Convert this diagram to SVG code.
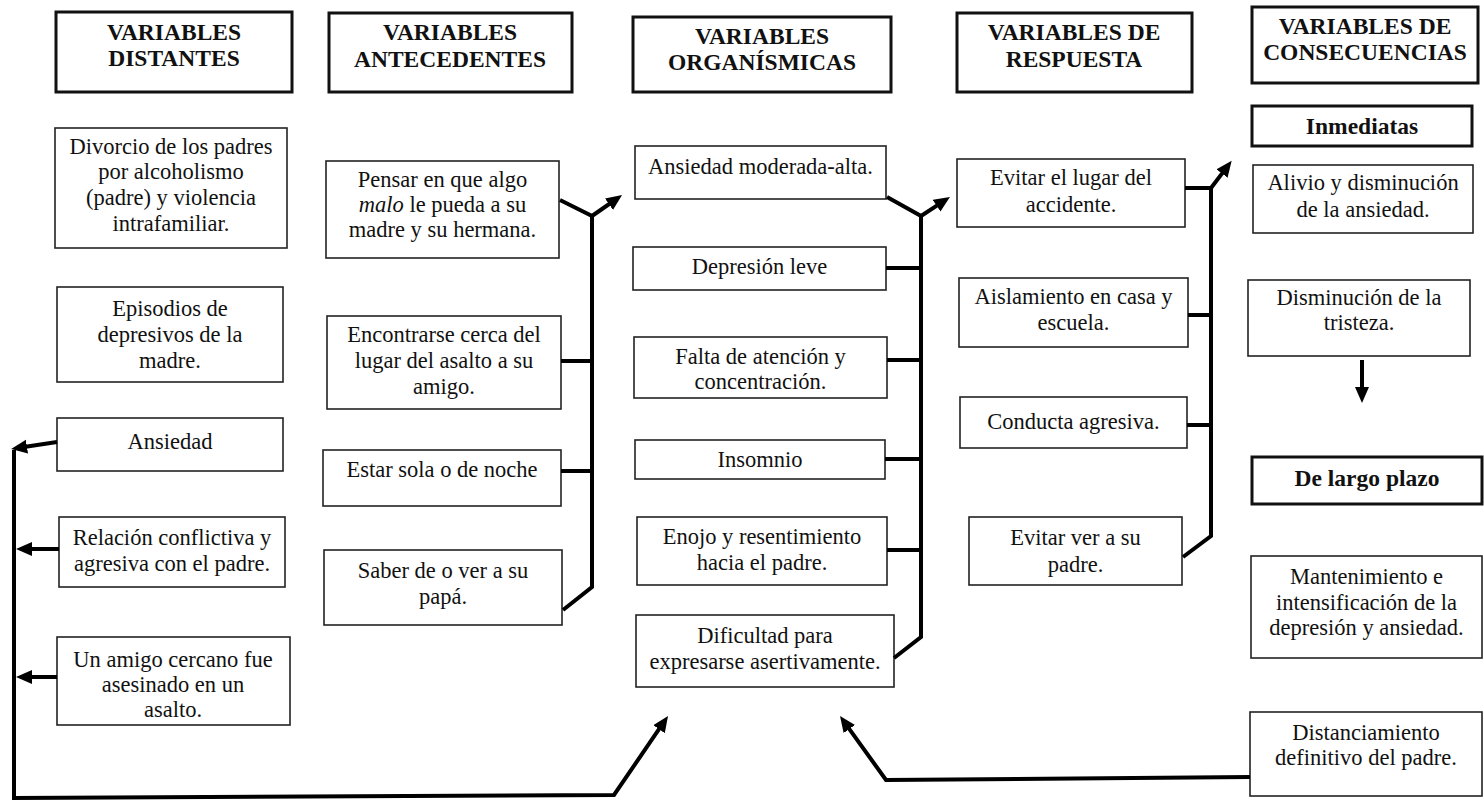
<svg xmlns="http://www.w3.org/2000/svg" width="1484" height="804" viewBox="0 0 1484 804">
  <style>
    .bg { fill: #ffffff; }
    .box { fill: #ffffff; stroke: #222; stroke-width: 1.6; }
    .hdr { fill: #ffffff; stroke: #111; stroke-width: 3; }
    .t { font-family: "Liberation Serif", "Times New Roman", serif; font-size: 22.5px; text-anchor: middle; fill: #111; }
    .h { font-family: "Liberation Serif", "Times New Roman", serif; font-size: 23.5px; font-weight: bold; text-anchor: middle; fill: #111; }
    .ln { fill: none; stroke: #000; stroke-width: 4; stroke-linejoin: miter; }
    .ar { fill: none; stroke: #000; stroke-width: 4; marker-end: url(#head); }
  </style>
  <defs>
    <marker id="head" markerUnits="userSpaceOnUse" markerWidth="18" markerHeight="16" refX="3" refY="7" orient="auto">
      <path d="M0,0 L16,7 L0,14 z" fill="#000"/>
    </marker>
  </defs>

  <rect class="bg" x="0" y="0" width="1484" height="804"/>

  <!-- column headers -->
  <g id="hdr-distantes">
    <rect class="hdr" x="56" y="12" width="236" height="80"/>
    <text class="h" x="174" y="40">VARIABLES</text>
    <text class="h" x="174" y="66">DISTANTES</text>
  </g>
  <g id="hdr-antecedentes">
    <rect class="hdr" x="329" y="13" width="243" height="79"/>
    <text class="h" x="450" y="40">VARIABLES</text>
    <text class="h" x="450" y="67">ANTECEDENTES</text>
  </g>
  <g id="hdr-organismicas">
    <rect class="hdr" x="633" y="17" width="258" height="75"/>
    <text class="h" x="762" y="44">VARIABLES</text>
    <text class="h" x="762" y="70">ORGANÍSMICAS</text>
  </g>
  <g id="hdr-respuesta">
    <rect class="hdr" x="957" y="13" width="235" height="79"/>
    <text class="h" x="1074" y="40">VARIABLES DE</text>
    <text class="h" x="1074" y="67">RESPUESTA</text>
  </g>
  <g id="hdr-consecuencias">
    <rect class="hdr" x="1252" y="7" width="226" height="76"/>
    <text class="h" x="1365" y="34">VARIABLES DE</text>
    <text class="h" x="1365" y="60">CONSECUENCIAS</text>
  </g>
  <g id="hdr-inmediatas">
    <rect class="hdr" x="1252" y="106" width="220" height="40"/>
    <text class="h" x="1362" y="134">Inmediatas</text>
  </g>
  <g id="hdr-largo-plazo">
    <rect class="hdr" x="1252" y="457" width="230" height="47"/>
    <text class="h" x="1367" y="486">De largo plazo</text>
  </g>

  <!-- distant variables -->
  <g id="n-divorcio">
    <rect class="box" x="55" y="128" width="232" height="120"/>
    <text class="t" x="171" y="154">Divorcio de los padres</text>
    <text class="t" x="171" y="179">por alcoholismo</text>
    <text class="t" x="171" y="205">(padre) y violencia</text>
    <text class="t" x="171" y="231">intrafamiliar.</text>
  </g>
  <g id="n-episodios">
    <rect class="box" x="57" y="287" width="226" height="95"/>
    <text class="t" x="170" y="316">Episodios de</text>
    <text class="t" x="170" y="342">depresivos de la</text>
    <text class="t" x="170" y="368">madre.</text>
  </g>
  <g id="n-ansiedad">
    <rect class="box" x="57" y="418" width="226" height="53"/>
    <text class="t" x="170" y="449">Ansiedad</text>
  </g>
  <g id="n-relacion">
    <rect class="box" x="59" y="517" width="226" height="70"/>
    <text class="t" x="172" y="545">Relación conflictiva y</text>
    <text class="t" x="172" y="571">agresiva con el padre.</text>
  </g>
  <g id="n-amigo">
    <rect class="box" x="57" y="637" width="233" height="88"/>
    <text class="t" x="173" y="667">Un amigo cercano fue</text>
    <text class="t" x="173" y="692">asesinado en un</text>
    <text class="t" x="173" y="717">asalto.</text>
  </g>

  <!-- antecedent variables -->
  <g id="n-pensar">
    <rect class="box" x="326" y="161" width="233" height="97"/>
    <text class="t" x="442.5" y="187">Pensar en que algo</text>
    <text class="t" x="442.5" y="212"><tspan font-style="italic">malo</tspan> le pueda a su</text>
    <text class="t" x="442.5" y="237">madre y su hermana.</text>
  </g>
  <g id="n-encontrarse">
    <rect class="box" x="327" y="316" width="234" height="93"/>
    <text class="t" x="444" y="342">Encontrarse cerca del</text>
    <text class="t" x="444" y="368">lugar del asalto a su</text>
    <text class="t" x="444" y="394">amigo.</text>
  </g>
  <g id="n-sola">
    <rect class="box" x="323" y="450" width="238" height="56"/>
    <text class="t" x="442" y="477">Estar sola o de noche</text>
  </g>
  <g id="n-saber">
    <rect class="box" x="324" y="550" width="238" height="75"/>
    <text class="t" x="443" y="578">Saber de o ver a su</text>
    <text class="t" x="443" y="604">papá.</text>
  </g>

  <!-- organismic variables -->
  <g id="n-ansiedad-mod">
    <rect class="box" x="635" y="146" width="251" height="53"/>
    <text class="t" x="760.5" y="174">Ansiedad moderada-alta.</text>
  </g>
  <g id="n-depresion">
    <rect class="box" x="633" y="247" width="253" height="43"/>
    <text class="t" x="759.5" y="274">Depresión leve</text>
  </g>
  <g id="n-atencion">
    <rect class="box" x="634" y="337" width="253" height="61"/>
    <text class="t" x="760.5" y="364">Falta de atención y</text>
    <text class="t" x="760.5" y="389">concentración.</text>
  </g>
  <g id="n-insomnio">
    <rect class="box" x="635" y="440" width="250" height="39"/>
    <text class="t" x="760" y="467">Insomnio</text>
  </g>
  <g id="n-enojo">
    <rect class="box" x="637" y="517" width="250" height="68"/>
    <text class="t" x="762" y="544">Enojo y resentimiento</text>
    <text class="t" x="762" y="570">hacia el padre.</text>
  </g>
  <g id="n-dificultad">
    <rect class="box" x="636" y="615" width="258" height="72"/>
    <text class="t" x="765" y="643">Dificultad para</text>
    <text class="t" x="765" y="669">expresarse asertivamente.</text>
  </g>

  <!-- response variables -->
  <g id="n-evitar-lugar">
    <rect class="box" x="957" y="159" width="228" height="68"/>
    <text class="t" x="1071" y="185">Evitar el lugar del</text>
    <text class="t" x="1071" y="212">accidente.</text>
  </g>
  <g id="n-aislamiento">
    <rect class="box" x="959" y="278" width="229" height="69"/>
    <text class="t" x="1073.5" y="304">Aislamiento en casa y</text>
    <text class="t" x="1073.5" y="330">escuela.</text>
  </g>
  <g id="n-conducta">
    <rect class="box" x="960" y="397" width="227" height="51"/>
    <text class="t" x="1073.5" y="429">Conducta agresiva.</text>
  </g>
  <g id="n-evitar-padre">
    <rect class="box" x="969" y="517" width="213" height="68"/>
    <text class="t" x="1075.5" y="545">Evitar ver a su</text>
    <text class="t" x="1075.5" y="572">padre.</text>
  </g>

  <!-- consequences -->
  <g id="n-alivio">
    <rect class="box" x="1253" y="165" width="220" height="68"/>
    <text class="t" x="1363" y="190">Alivio y disminución</text>
    <text class="t" x="1363" y="217">de la ansiedad.</text>
  </g>
  <g id="n-tristeza">
    <rect class="box" x="1248" y="280" width="222" height="76"/>
    <text class="t" x="1359" y="305">Disminución de la</text>
    <text class="t" x="1359" y="330">tristeza.</text>
  </g>
  <g id="n-mantenimiento">
    <rect class="box" x="1251" y="556" width="231" height="102"/>
    <text class="t" x="1366.5" y="584">Mantenimiento e</text>
    <text class="t" x="1366.5" y="610">intensificación de la</text>
    <text class="t" x="1366.5" y="635">depresión y ansiedad.</text>
  </g>
  <g id="n-distanciamiento">
    <rect class="box" x="1250" y="712" width="232" height="84"/>
    <text class="t" x="1366" y="740">Distanciamiento</text>
    <text class="t" x="1366" y="765">definitivo del padre.</text>
  </g>

  <!-- connectors -->
  <g id="connectors">
    <!-- antecedents bracket -->
    <path class="ln" d="M560,200 L592,216 L592,587 L563,610"/>
    <path class="ln" d="M561,361 H592 M561,471 H592"/>
    <path class="ar" d="M592,216 L611.4,202.5"/>
    <!-- organismic bracket -->
    <path class="ln" d="M887,197 L921,216 L921,637 L894,658"/>
    <path class="ln" d="M886,268 H921 M887,360 H921 M885,459 H921 M887,550 H921"/>
    <path class="ar" d="M921,216 L939.1,204.1"/>
    <!-- response bracket -->
    <path class="ln" d="M1185,188 H1211 V536 L1183,557"/>
    <path class="ln" d="M1188,315 H1211 M1187,425 H1211"/>
    <path class="ar" d="M1211,188 L1223.8,171.1"/>
    <!-- short to long term -->
    <path class="ar" d="M1362,360 V390"/>
    <!-- feedback loop on the left -->
    <path class="ar" d="M57,442 L24,447"/>
    <path class="ar" d="M59,549 H29"/>
    <path class="ar" d="M57,677 H29"/>
    <path class="ar" d="M14,450 V798 L614,795 L660.7,726.7"/>
    <!-- feedback from distancing -->
    <path class="ar" d="M1250,777 L886,780 L847.6,726.6"/>
  </g>
</svg>
